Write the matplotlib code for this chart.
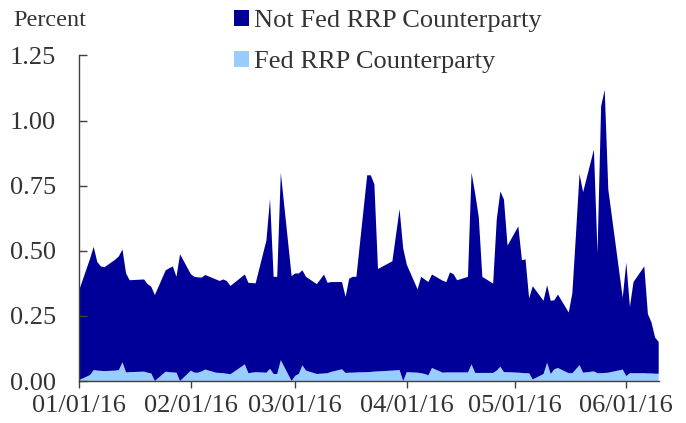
import numpy as np
import pandas as pd
import matplotlib
matplotlib.use("Agg")
import matplotlib.pyplot as plt
import matplotlib.dates as mdates
from matplotlib.patches import Patch

# Datos (días hábiles 2016)
fechas = [
    "01-01",
    "01-04", "01-05", "01-06", "01-07", "01-08",
    "01-11", "01-12", "01-13", "01-14", "01-15",
    "01-19", "01-20", "01-21", "01-22",
    "01-25", "01-26", "01-27", "01-28", "01-29",
    "02-01", "02-02", "02-03", "02-04", "02-05",
    "02-08", "02-09", "02-10", "02-11", "02-12",
    "02-16", "02-17", "02-18", "02-19",
    "02-22", "02-23", "02-24", "02-25", "02-26",
    "02-29", "03-01", "03-02", "03-03", "03-04",
    "03-07", "03-08", "03-09", "03-10", "03-11",
    "03-14", "03-15", "03-16", "03-17", "03-18",
    "03-21", "03-22", "03-23", "03-24",
    "03-28", "03-29", "03-30", "03-31", "04-01",
    "04-04", "04-05", "04-06", "04-07", "04-08",
    "04-11", "04-12", "04-13", "04-14", "04-15",
    "04-18", "04-19", "04-20", "04-21", "04-22",
    "04-25", "04-26", "04-27", "04-28", "04-29",
    "05-02", "05-03", "05-04", "05-05", "05-06",
    "05-09", "05-10", "05-11", "05-12", "05-13",
    "05-16", "05-17", "05-18", "05-19", "05-20",
    "05-23", "05-24", "05-25", "05-26", "05-27",
    "05-31", "06-01", "06-02", "06-03",
    "06-06", "06-07", "06-08", "06-09", "06-10",
]

total = [
    0.35,
    0.47, 0.515, 0.457, 0.44, 0.437,
    0.466, 0.479, 0.505, 0.413, 0.387,
    0.39, 0.372, 0.362, 0.33,
    0.425, 0.433, 0.44, 0.40, 0.487,
    0.41, 0.40, 0.398, 0.397, 0.407,
    0.39, 0.384, 0.39, 0.384, 0.365,
    0.409, 0.377, 0.376, 0.375,
    0.54, 0.70, 0.40, 0.40, 0.80,
    0.403, 0.413, 0.413, 0.425, 0.40,
    0.372, 0.39, 0.409, 0.377, 0.38,
    0.38, 0.323, 0.393, 0.40, 0.40,
    0.79, 0.79, 0.755, 0.43,
    0.46, 0.56, 0.66, 0.51, 0.447,
    0.352, 0.40, 0.39, 0.38, 0.409,
    0.385, 0.38, 0.417, 0.41, 0.387,
    0.40, 0.80, 0.72, 0.63, 0.40,
    0.374, 0.62, 0.728, 0.697, 0.52,
    0.594, 0.464, 0.467, 0.317, 0.364,
    0.308, 0.368, 0.308, 0.31, 0.332,
    0.263, 0.336, 0.56, 0.795, 0.725,
    0.889, 0.49, 1.055, 1.118, 0.735,
    0.32, 0.455, 0.285, 0.38,
    0.44, 0.257, 0.225, 0.167, 0.15,
]

fed_rrp = [
    0.004,
    0.023, 0.042, 0.040, 0.039, 0.038,
    0.040, 0.042, 0.072, 0.033, 0.034,
    0.036, 0.032, 0.029, 0.0,
    0.036, 0.034, 0.033, 0.032, 0.0,
    0.040, 0.032, 0.032, 0.037, 0.044,
    0.032, 0.031, 0.030, 0.028, 0.026,
    0.064, 0.030, 0.032, 0.034,
    0.032, 0.047, 0.027, 0.027, 0.080,
    0.0, 0.020, 0.027, 0.060, 0.040,
    0.027, 0.028, 0.029, 0.030, 0.035,
    0.045, 0.031, 0.032, 0.032, 0.033,
    0.034, 0.035, 0.036, 0.037,
    0.040, 0.041, 0.042, 0.0, 0.034,
    0.032, 0.030, 0.027, 0.022, 0.050,
    0.032, 0.033, 0.033, 0.033, 0.033,
    0.033, 0.064, 0.031, 0.031, 0.031,
    0.031, 0.040, 0.055, 0.034, 0.034,
    0.032, 0.031, 0.030, 0.030, 0.006,
    0.027, 0.070, 0.027, 0.045, 0.050,
    0.030, 0.030, 0.045, 0.061, 0.032,
    0.037, 0.030, 0.030, 0.031, 0.032,
    0.044, 0.019, 0.030, 0.030,
    0.030, 0.029, 0.029, 0.028, 0.028,
]

etiquetas = ["Not Fed RRP Counterparty", "Fed RRP Counterparty"]
y_ticks = [0.0, 0.25, 0.50, 0.75, 1.00, 1.25]

# Preparar series
x = pd.to_datetime(["2016-" + f for f in fechas])
fed = np.array(fed_rrp)
no_fed = np.array(total) - fed

AZUL = "#000099"
CELESTE = "#99ccff"
GRIS = "#404040"

plt.rcParams["font.family"] = ["Liberation Serif", "DejaVu Serif"]

fig = plt.figure(figsize=(6.86, 4.23), dpi=100)
ax = fig.add_axes([79.3 / 686, 42 / 423, 579.4 / 686, 325.5 / 423])

ax.stackplot(x, fed, no_fed, colors=[CELESTE, AZUL], linewidth=0)

# Ejes
ax.set_xlim(pd.Timestamp("2016-01-01"), pd.Timestamp("2016-06-10"))
ax.set_ylim(0, 1.25)
ax.set_yticks(y_ticks)
ax.set_yticklabels([f"{v:.2f}" for v in y_ticks])
ax.xaxis.set_major_locator(mdates.MonthLocator())
ax.xaxis.set_major_formatter(mdates.DateFormatter("%m/%d/%y"))

for s in ["top", "right"]:
    ax.spines[s].set_visible(False)
for s in ["left", "bottom"]:
    ax.spines[s].set_color(GRIS)
    ax.spines[s].set_linewidth(1.0)

ax.tick_params(axis="y", direction="in", length=5.5, width=1.0, color=GRIS,
               labelsize=19, labelcolor="#333333", pad=17)
ax.tick_params(axis="x", direction="out", length=5, width=1.0, color=GRIS,
               labelsize=19, labelcolor="#333333", pad=5)

# Texto y leyenda
fig.text(13 / 686, 1 - 21 / 423, "Percent", fontsize=17.5, color="#333333",
         ha="left", va="center")

handles = [Patch(facecolor=AZUL, edgecolor="none"),
           Patch(facecolor=CELESTE, edgecolor="none")]
fig.legend(handles, etiquetas, loc="upper left",
           bbox_to_anchor=(234 / 686, 1 - 10 / 423), frameon=False,
           fontsize=19, labelcolor="#333333", handlelength=0.55,
           handleheight=0.55, handletextpad=0.2, labelspacing=0.7,
           borderpad=0, borderaxespad=0)

fig.savefig("out.png", dpi=100)
plt.close(fig)
